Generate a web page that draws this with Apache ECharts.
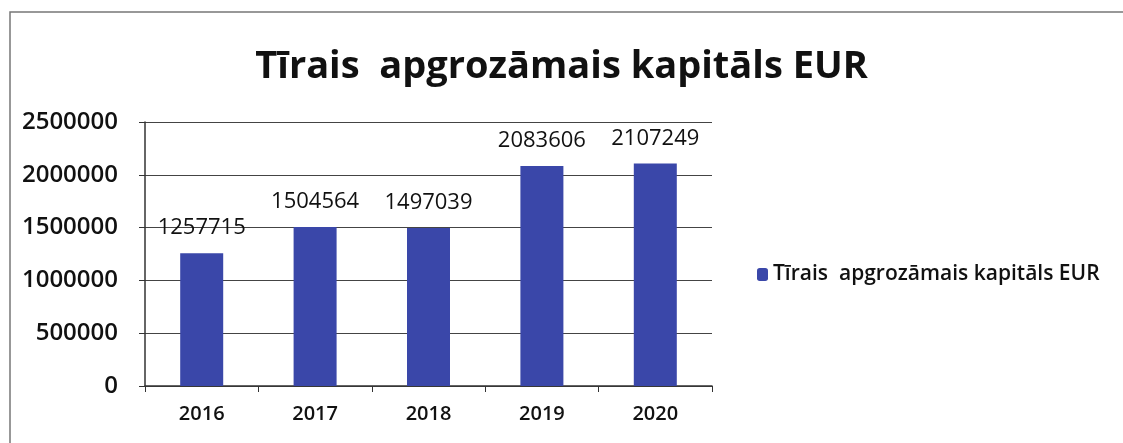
<!DOCTYPE html>
<html><head><meta charset="utf-8">
<script src="https://cdn.jsdelivr.net/npm/echarts@6/dist/echarts.min.js"></script>
<style>html,body{margin:0;padding:0;background:#fff}#c{width:1123px;height:443px}</style>
</head><body><div id="c"></div>
<script>
const categories = ['2016','2017','2018','2019','2020'];
const values = [1257715, 1504564, 1497039, 2083606, 2107249];
const seriesName = 'Tīrais  apgrozāmais kapitāls EUR';
const titleText = 'Tīrais  apgrozāmais kapitāls EUR';

const chart = echarts.init(document.getElementById('c'));
const F = '"Open Sans", Lato, sans-serif';
chart.setOption({
  animation: false,
  backgroundColor: '#fff',
  graphic: [{type:'rect', shape:{x:10,y:12,width:1200,height:500}, style:{fill:'none', stroke:'#777', lineWidth:1.5}}],
  title: {text: titleText, left: 'center', top: 43, textStyle:{fontFamily:F, fontWeight:'bold', fontSize:38, color:'#111'}},
  legend: {orient:'vertical', left: 752, top: 259, itemWidth:11, itemHeight:13, itemGap:8,
    textStyle:{fontFamily:F, fontSize:21, fontWeight:600, color:'#111'}, data:[seriesName]},
  grid: {left:145, right:411, top:122, bottom:57},
  xAxis: {type:'category', data:categories,
    axisLine:{lineStyle:{color:'#333', width:1.5}},
    axisTick:{show:true, length:6, inside:false, lineStyle:{color:'#333'}},
    axisLabel:{fontFamily:F, fontSize:20, fontWeight:600, color:'#111', margin:18}},
  yAxis: {type:'value', min:0, max:2500000, interval:500000,
    axisLine:{show:true, lineStyle:{color:'#333', width:1.5}},
    axisTick:{show:true, length:6, lineStyle:{color:'#333'}},
    axisLabel:{fontFamily:F, fontSize:24, fontWeight:600, color:'#111', margin:27, formatter: v => String(v)},
    splitLine:{lineStyle:{color:'#444', width:1.2}}},
  series: [{name:seriesName, type:'bar', data:values, barWidth:43,
    itemStyle:{color:'#3A47A9'},
    label:{show:true, position:'top', distance:14, fontFamily:F, fontSize:22, color:'#111'}}]
});
</script></body></html>
